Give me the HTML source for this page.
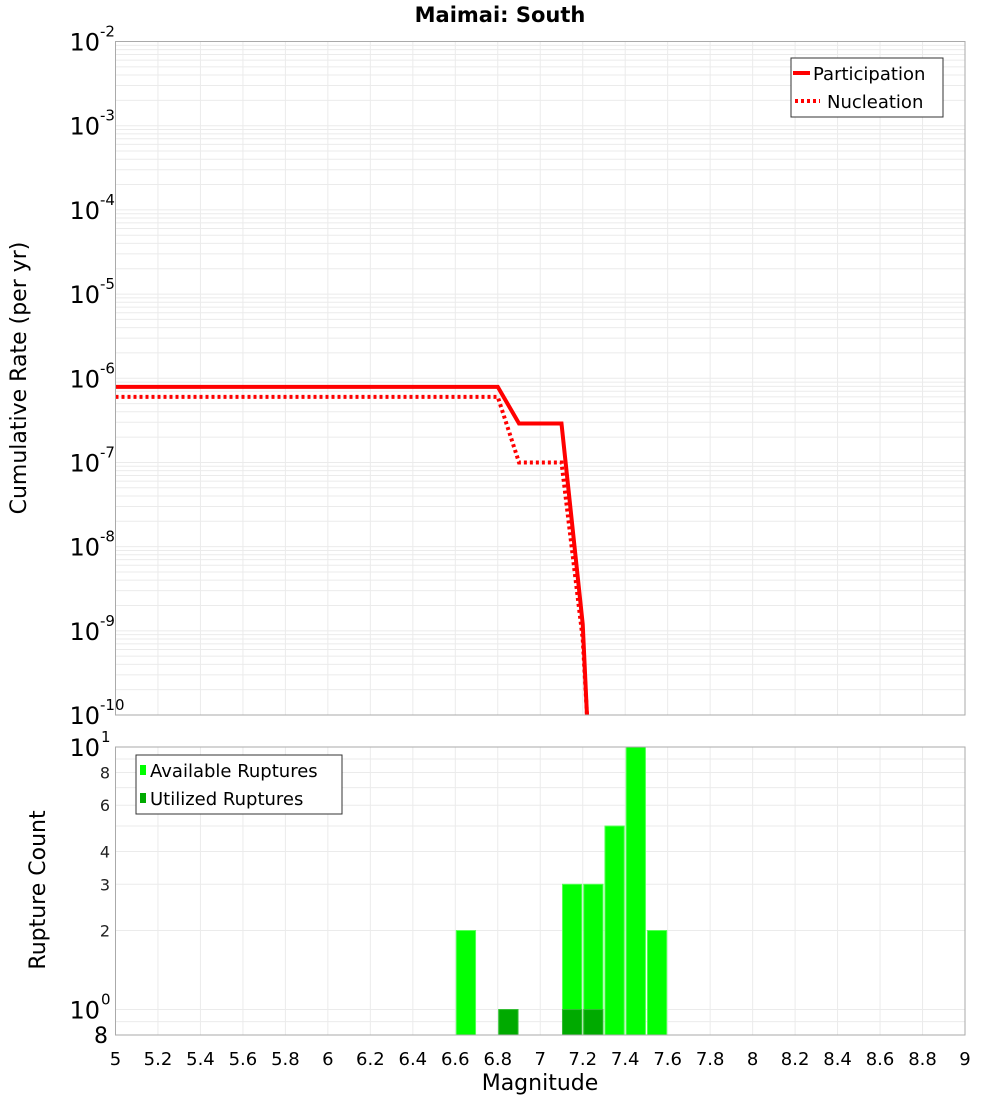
<!DOCTYPE html>
<html><head><meta charset="utf-8"><style>
body{margin:0;background:#fff}
text{font-family:"DejaVu Sans","Liberation Sans",sans-serif}
</style></head><body>
<svg id="c" width="1000" height="1100" xmlns="http://www.w3.org/2000/svg">
<text x="500" y="22" text-anchor="middle" font-size="21" font-weight="bold">Maimai: South</text>
<g id="topPlot"></g>
<g id="botPlot"></g>
<text transform="translate(26,378) rotate(-90)" text-anchor="middle" font-size="22">Cumulative Rate (per yr)</text>
<text transform="translate(45,890) rotate(-90)" text-anchor="middle" font-size="22">Rupture Count</text>
<text x="540" y="1090" text-anchor="middle" font-size="22">Magnitude</text>
</svg>
<script>
const partMags=[5.0,6.8,6.9,7.1,7.2,7.22];
const partRates=[7.9e-7,7.9e-7,2.9e-7,2.9e-7,1.2e-9,1e-11];
const nuclMags=[5.0,6.8,6.9,7.1,7.2,7.22];
const nuclRates=[6e-7,6e-7,1e-7,1e-7,8e-10,1e-11];
const binCenters=[6.65,6.85,7.15,7.25,7.35,7.45,7.55];
const availCounts=[2,1,3,3,5,10,2];
const utilCounts=[0,1,1,1,0,0,0];
const xTicks=[5,5.2,5.4,5.6,5.8,6,6.2,6.4,6.6,6.8,7,7.2,7.4,7.6,7.8,8,8.2,8.4,8.6,8.8,9];
const topExps=[-2,-3,-4,-5,-6,-7,-8,-9,-10];
const botMinor=[2,3,4,6,8];

const NS="http://www.w3.org/2000/svg";
const L=115.5,R=965,T1=41.5,B1=715,T2=747,B2=1035;
const xs=m=>L+(m-5)/4*(R-L);
const yTop=v=>B1-(Math.log10(v)+10)/8*(B1-T1);
const yBot=v=>B2-(Math.log10(v)-Math.log10(0.8))/(1-Math.log10(0.8))*(B2-T2);
function el(p,t,a,txt){const e=document.createElementNS(NS,t);for(const k in a)e.setAttribute(k,a[k]);if(txt!==undefined)e.textContent=txt;p.appendChild(e);return e;}
const topG=document.getElementById('topPlot'),botG=document.getElementById('botPlot');

for(let d=-10;d<-2;d++)for(let k=1;k<10;k++){const y=yTop(k*Math.pow(10,d));
 const g=el(topG,'line',{x1:L,x2:R,y1:y,y2:y,stroke:'#ebebeb','stroke-width':1});
 
 }
xTicks.forEach(m=>{const g=el(topG,'line',{x1:xs(m),x2:xs(m),y1:T1,y2:B1,stroke:'#ebebeb'});
 
 
 const h=el(botG,'line',{x1:xs(m),x2:xs(m),y1:T2,y2:B2,stroke:'#ebebeb'});
 
 
 const t=el(botG,'text',{x:xs(m),y:1065,'text-anchor':'middle','font-size':18},String(m));
 
 });
topExps.forEach(e=>{const y=yTop(Math.pow(10,e));
 const t=el(topG,'text',{x:100,y:y+9,'text-anchor':'end','font-size':24},'10');
 
 
 const s=el(topG,'text',{x:100,y:y-5,'font-size':15},String(e));
 
 });
function line(arrM,arrR,dash,name){const pts=arrM.map((m,i)=>xs(m)+','+Math.min(B1,yTop(arrR[i]))).join(' ');
 const p=el(topG,'polyline',{points:pts,fill:'none',stroke:'#ff0000','stroke-width':4});
 if(dash)p.setAttribute('stroke-dasharray','3,3');
 
 }
line(partMags,partRates,false,'participation-line');
line(nuclMags,nuclRates,true,'nucleation-line');
const f1=el(topG,'rect',{x:L,y:T1,width:R-L,height:B1-T1,fill:'none',stroke:'#aaa'});


const lg=el(topG,'g',{});


el(lg,'rect',{x:791,y:58,width:152,height:59,fill:'#fff',stroke:'#333'});
el(lg,'line',{x1:793,x2:810,y1:73,y2:73,stroke:'#f00','stroke-width':4});
el(lg,'text',{x:813,y:80,'font-size':18},'Participation');
el(lg,'line',{x1:795,x2:820,y1:101,y2:101,stroke:'#f00','stroke-width':4,'stroke-dasharray':'3,3'});
el(lg,'text',{x:827,y:108,'font-size':18},'Nucleation');

[1,2,3,4,5,6,7,8,9,0.9].forEach(v=>{const y=yBot(v);const g=el(botG,'line',{x1:L,x2:R,y1:y,y2:y,stroke:'#ebebeb'});
 
 });
botMinor.forEach(v=>{const t=el(botG,'text',{x:110,y:yBot(v)+6,'text-anchor':'end','font-size':16,fill:'#222'},String(v));
 
 });
[[1,'1'],[0,'0']].forEach(([e,s])=>{const y=yBot(Math.pow(10,e));
 const t=el(botG,'text',{x:100,y:y+9,'text-anchor':'end','font-size':24},'10');
 
 
 const u=el(botG,'text',{x:101,y:y-5,'font-size':15},s);
 
 });
{const t=el(botG,'text',{x:108,y:1043,'text-anchor':'end','font-size':22},'8');
 
 }
binCenters.forEach((c,i)=>{const x0=xs(c-0.05)+1,x1=xs(c+0.05)-1;
 if(availCounts[i]>0){const y=yBot(availCounts[i]);const r=el(botG,'rect',{x:x0,y:y,width:x1-x0,height:B2-y,fill:'#00ff00',stroke:'#55ff55','stroke-width':1});
  
  }
 if(utilCounts[i]>0){const y=yBot(utilCounts[i]);const r=el(botG,'rect',{x:x0,y:y,width:x1-x0,height:B2-y,fill:'#00aa00',stroke:'#33bb33','stroke-width':1});
  
  }});
const f2=el(botG,'rect',{x:L,y:T2,width:R-L,height:B2-T2,fill:'none',stroke:'#aaa'});


const lb=el(botG,'g',{});


el(lb,'rect',{x:136,y:755,width:206,height:59,fill:'#fff',stroke:'#333'});
el(lb,'rect',{x:140,y:765,width:6,height:10,fill:'#00ff00'});
el(lb,'text',{x:150,y:777,'font-size':18},'Available Ruptures');
el(lb,'rect',{x:140,y:793,width:6,height:10,fill:'#00aa00'});
el(lb,'text',{x:150,y:805,'font-size':18},'Utilized Ruptures');
</script>
</body></html>
